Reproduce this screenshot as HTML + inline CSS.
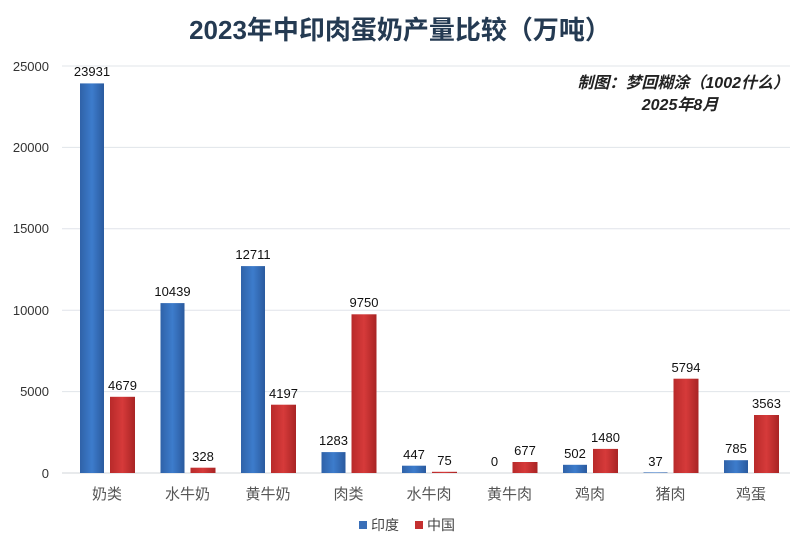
<!DOCTYPE html>
<html><head><meta charset="utf-8"><style>
body{margin:0;background:#fff}
svg{display:block}
text{font-family:"Liberation Sans","Noto Sans CJK SC",sans-serif}
</style></head><body>
<svg width="800" height="548" xmlns="http://www.w3.org/2000/svg">
<defs>
<linearGradient id="b" x1="0" x2="1"><stop offset="0" stop-color="#2f62a8"/><stop offset="0.5" stop-color="#3d7ccc"/><stop offset="1" stop-color="#2a5a9e"/></linearGradient>
<linearGradient id="r" x1="0" x2="1"><stop offset="0" stop-color="#b82a2a"/><stop offset="0.5" stop-color="#d63a3a"/><stop offset="1" stop-color="#a82424"/></linearGradient>
</defs>
<text x="400" y="39" text-anchor="middle" font-size="26" font-weight="bold" fill="#243a52">2023年中印肉蛋奶产量比较（万吨）</text>
<g stroke="#e0e4ea" stroke-width="1">
<line x1="62" x2="790" y1="66" y2="66"/><line x1="62" x2="790" y1="147.4" y2="147.4"/>
<line x1="62" x2="790" y1="228.8" y2="228.8"/><line x1="62" x2="790" y1="310.2" y2="310.2"/>
<line x1="62" x2="790" y1="391.6" y2="391.6"/><line x1="62" x2="790" y1="473" y2="473" stroke="#d0d4da"/>
</g>
<g font-size="13" fill="#333" text-anchor="end">
<text x="49" y="71">25000</text><text x="49" y="152">20000</text><text x="49" y="233">15000</text>
<text x="49" y="315">10000</text><text x="49" y="396">5000</text><text x="49" y="478">0</text>
</g>
<text x="789" y="88" text-anchor="end" font-size="16" font-style="italic" font-weight="bold" fill="#222">制图：梦回糊涂（1002什么）</text>
<text x="680" y="110" text-anchor="middle" font-size="16" font-style="italic" font-weight="bold" fill="#222">2025年8月</text>
<g>
<rect x="80" y="83.4" width="24" height="389.6" fill="url(#b)"/><rect x="110" y="396.8" width="25" height="76.2" fill="url(#r)"/>
<rect x="160.5" y="303.1" width="24" height="169.9" fill="url(#b)"/><rect x="190.5" y="467.7" width="25" height="5.3" fill="url(#r)"/>
<rect x="241" y="266.1" width="24" height="206.9" fill="url(#b)"/><rect x="271" y="404.7" width="25" height="68.3" fill="url(#r)"/>
<rect x="321.5" y="452.1" width="24" height="20.9" fill="url(#b)"/><rect x="351.5" y="314.3" width="25" height="158.7" fill="url(#r)"/>
<rect x="402" y="465.7" width="24" height="7.3" fill="url(#b)"/><rect x="432" y="471.8" width="25" height="1.2" fill="url(#r)"/>
<rect x="512.5" y="462" width="25" height="11" fill="url(#r)"/>
<rect x="563" y="464.8" width="24" height="8.2" fill="url(#b)"/><rect x="593" y="448.9" width="25" height="24.1" fill="url(#r)"/>
<rect x="643.5" y="472.4" width="24" height="0.6" fill="url(#b)"/><rect x="673.5" y="378.7" width="25" height="94.3" fill="url(#r)"/>
<rect x="724" y="460.2" width="24" height="12.8" fill="url(#b)"/><rect x="754" y="415" width="25" height="58" fill="url(#r)"/>
</g>
<g font-size="13" fill="#111" text-anchor="middle">
<text x="92" y="76">23931</text><text x="122.5" y="390">4679</text>
<text x="172.5" y="296">10439</text><text x="203" y="461">328</text>
<text x="253" y="259">12711</text><text x="283.5" y="398">4197</text>
<text x="333.5" y="445">1283</text><text x="364" y="307">9750</text>
<text x="414" y="459">447</text><text x="444.5" y="465">75</text>
<text x="494.5" y="466">0</text><text x="525" y="455">677</text>
<text x="575" y="458">502</text><text x="605.5" y="442">1480</text>
<text x="655.5" y="466">37</text><text x="686" y="372">5794</text>
<text x="736" y="453">785</text><text x="766.5" y="408">3563</text>
</g>
<g font-size="15" fill="#555" text-anchor="middle">
<text x="107" y="499">奶类</text><text x="187.5" y="499">水牛奶</text><text x="268" y="499">黄牛奶</text>
<text x="348.5" y="499">肉类</text><text x="429" y="499">水牛肉</text><text x="509.5" y="499">黄牛肉</text>
<text x="590" y="499">鸡肉</text><text x="670.5" y="499">猪肉</text><text x="751" y="499">鸡蛋</text>
</g>
<rect x="359" y="521" width="8" height="8" fill="#3a6fb8"/><text x="371" y="530" font-size="14" fill="#444">印度</text>
<rect x="415" y="521" width="8" height="8" fill="#c43030"/><text x="427" y="530" font-size="14" fill="#444">中国</text>
</svg>
</body></html>
